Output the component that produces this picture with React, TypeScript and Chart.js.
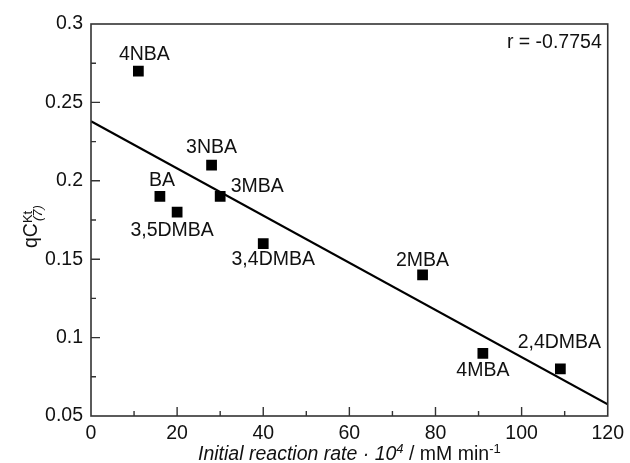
import React, { useEffect, useRef } from "react";
import { Chart, registerables } from "chart.js";

Chart.register(...registerables);

// ---- data ----
const compounds = ["4NBA", "BA", "3,5DMBA", "3NBA", "3MBA", "3,4DMBA", "2MBA", "4MBA", "2,4DMBA"];
const rateValues = [11, 16, 20, 28, 30, 40, 77, 91, 109];
const qcValues = [0.27, 0.19, 0.18, 0.21, 0.19, 0.16, 0.14, 0.09, 0.08];
const fitX = [0, 120];
const fitY = [0.238, 0.0575];
const xTicks = [0, 20, 40, 60, 80, 100, 120];
const yTicks = [0.05, 0.1, 0.15, 0.2, 0.25, 0.3];
const correlationText = "r = -0.7754";

// label offsets relative to each marker (style)
const labelOffsets: [number, number][] = [
  [6, -16], [2, -16], [-5, 18], [0, -17], [37, -10], [10, 16], [0, -14], [0, 17], [-1, -26],
];

const FONT = "'Liberation Sans', Arial, sans-serif";
const FS = 19.5;

const decorPlugin = {
  id: "decor",
  afterDraw(chart: any) {
    const ctx = chart.ctx as CanvasRenderingContext2D;
    const xs = chart.scales.x;
    const ys = chart.scales.y;
    const { left, right, top, bottom } = chart.chartArea;
    ctx.save();
    // box
    ctx.strokeStyle = "#333";
    ctx.lineWidth = 1.6;
    ctx.strokeRect(left, top, right - left, bottom - top);
    // ticks
    ctx.lineWidth = 1.4;
    ctx.beginPath();
    for (let v = 0; v <= 120; v += 10) {
      const px = xs.getPixelForValue(v);
      const len = v % 20 === 0 ? 9 : 5;
      if (v > 0 && v < 120) {
        ctx.moveTo(px, bottom);
        ctx.lineTo(px, bottom - len);
      }
    }
    for (let k = 0; k <= 10; k++) {
      const v = 0.05 + k * 0.025;
      const py = ys.getPixelForValue(v);
      const len = k % 2 === 0 ? 9 : 5;
      if (k > 0 && k < 10) {
        ctx.moveTo(left, py);
        ctx.lineTo(left + len, py);
      }
    }
    ctx.stroke();

    // point labels
    ctx.fillStyle = "#111";
    ctx.font = `${FS}px ${FONT}`;
    ctx.textAlign = "center";
    ctx.textBaseline = "middle";
    compounds.forEach((name, i) => {
      const px = xs.getPixelForValue(rateValues[i]);
      const py = ys.getPixelForValue(qcValues[i]);
      const [dx, dy] = labelOffsets[i];
      ctx.fillText(name, px + dx, py + dy);
    });

    // r label
    ctx.textAlign = "right";
    ctx.textBaseline = "alphabetic";
    ctx.fillText(correlationText, right - 6, top + 24);

    // x title
    const parts: { t: string; f: string; dy: number }[] = [
      { t: "Initial reaction rate · 10", f: `italic ${FS}px ${FONT}`, dy: 0 },
      { t: "4", f: `italic 13px ${FONT}`, dy: -7 },
      { t: " / mM min", f: `${FS}px ${FONT}`, dy: 0 },
      { t: "-1", f: `13px ${FONT}`, dy: -7 },
    ];
    ctx.textAlign = "left";
    let total = 0;
    parts.forEach((p) => {
      ctx.font = p.f;
      total += ctx.measureText(p.t).width;
    });
    let cx = (left + right) / 2 - total / 2;
    const baseY = 460;
    parts.forEach((p) => {
      ctx.font = p.f;
      ctx.fillText(p.t, cx, baseY + p.dy);
      cx += ctx.measureText(p.t).width;
    });

    // y title (rotated)
    ctx.translate(37, 248);
    ctx.rotate(-Math.PI / 2);
    ctx.font = `${FS}px ${FONT}`;
    ctx.fillText("qC", 0, 0);
    const w0 = ctx.measureText("qC").width;
    ctx.font = `13px ${FONT}`;
    ctx.fillText("Kt", w0, -5);
    ctx.font = `italic 13px ${FONT}`;
    ctx.fillText("(7)", w0 + 2, 5);
    ctx.restore();
  },
};

export default function App() {
  const ref = useRef<HTMLCanvasElement>(null);
  useEffect(() => {
    document.body.style.margin = "0";
    const canvas = ref.current!;
    const chart = new Chart(canvas, {
      type: "scatter",
      data: {
        datasets: [
          {
            type: "line",
            data: fitX.map((x, i) => ({ x, y: fitY[i] })),
            borderColor: "#000",
            borderWidth: 2.2,
            pointRadius: 0,
            fill: false,
          } as any,
          {
            data: rateValues.map((x, i) => ({ x, y: qcValues[i] })),
            pointStyle: "rect",
            pointRadius: 7.6,
            pointHoverRadius: 7.6,
            backgroundColor: "#000",
            borderWidth: 0,
          },
        ],
      },
      options: {
        responsive: false,
        animation: false,
        events: [],
        layout: { padding: { left: 0, right: 18, top: 24, bottom: 0 } },
        plugins: { legend: { display: false }, tooltip: { enabled: false } },
        scales: {
          x: {
            type: "linear",
            min: 0,
            max: 120,
            afterBuildTicks: (s: any) => {
              s.ticks = xTicks.map((v) => ({ value: v }));
            },
            afterFit: (s: any) => {
              s.height = 47;
            },
            grid: { display: false, drawTicks: false },
            border: { display: false },
            ticks: {
              color: "#111",
              font: { size: FS, family: FONT },
              padding: 6,
              maxRotation: 0,
              callback: (v: any) => String(v),
            },
          },
          y: {
            type: "linear",
            min: 0.05,
            max: 0.3,
            afterBuildTicks: (s: any) => {
              s.ticks = yTicks.map((v) => ({ value: v }));
            },
            afterFit: (s: any) => {
              s.width = 91;
            },
            grid: { display: false, drawTicks: false },
            border: { display: false },
            ticks: {
              color: "#111",
              font: { size: FS, family: FONT },
              padding: 8,
              callback: (v: any) => String(Number(Number(v).toFixed(3))),
            },
          },
        },
      },
      plugins: [decorPlugin],
    });
    return () => chart.destroy();
  }, []);
  return <canvas ref={ref} width={630} height={463} style={{ display: "block" }} />;
}
